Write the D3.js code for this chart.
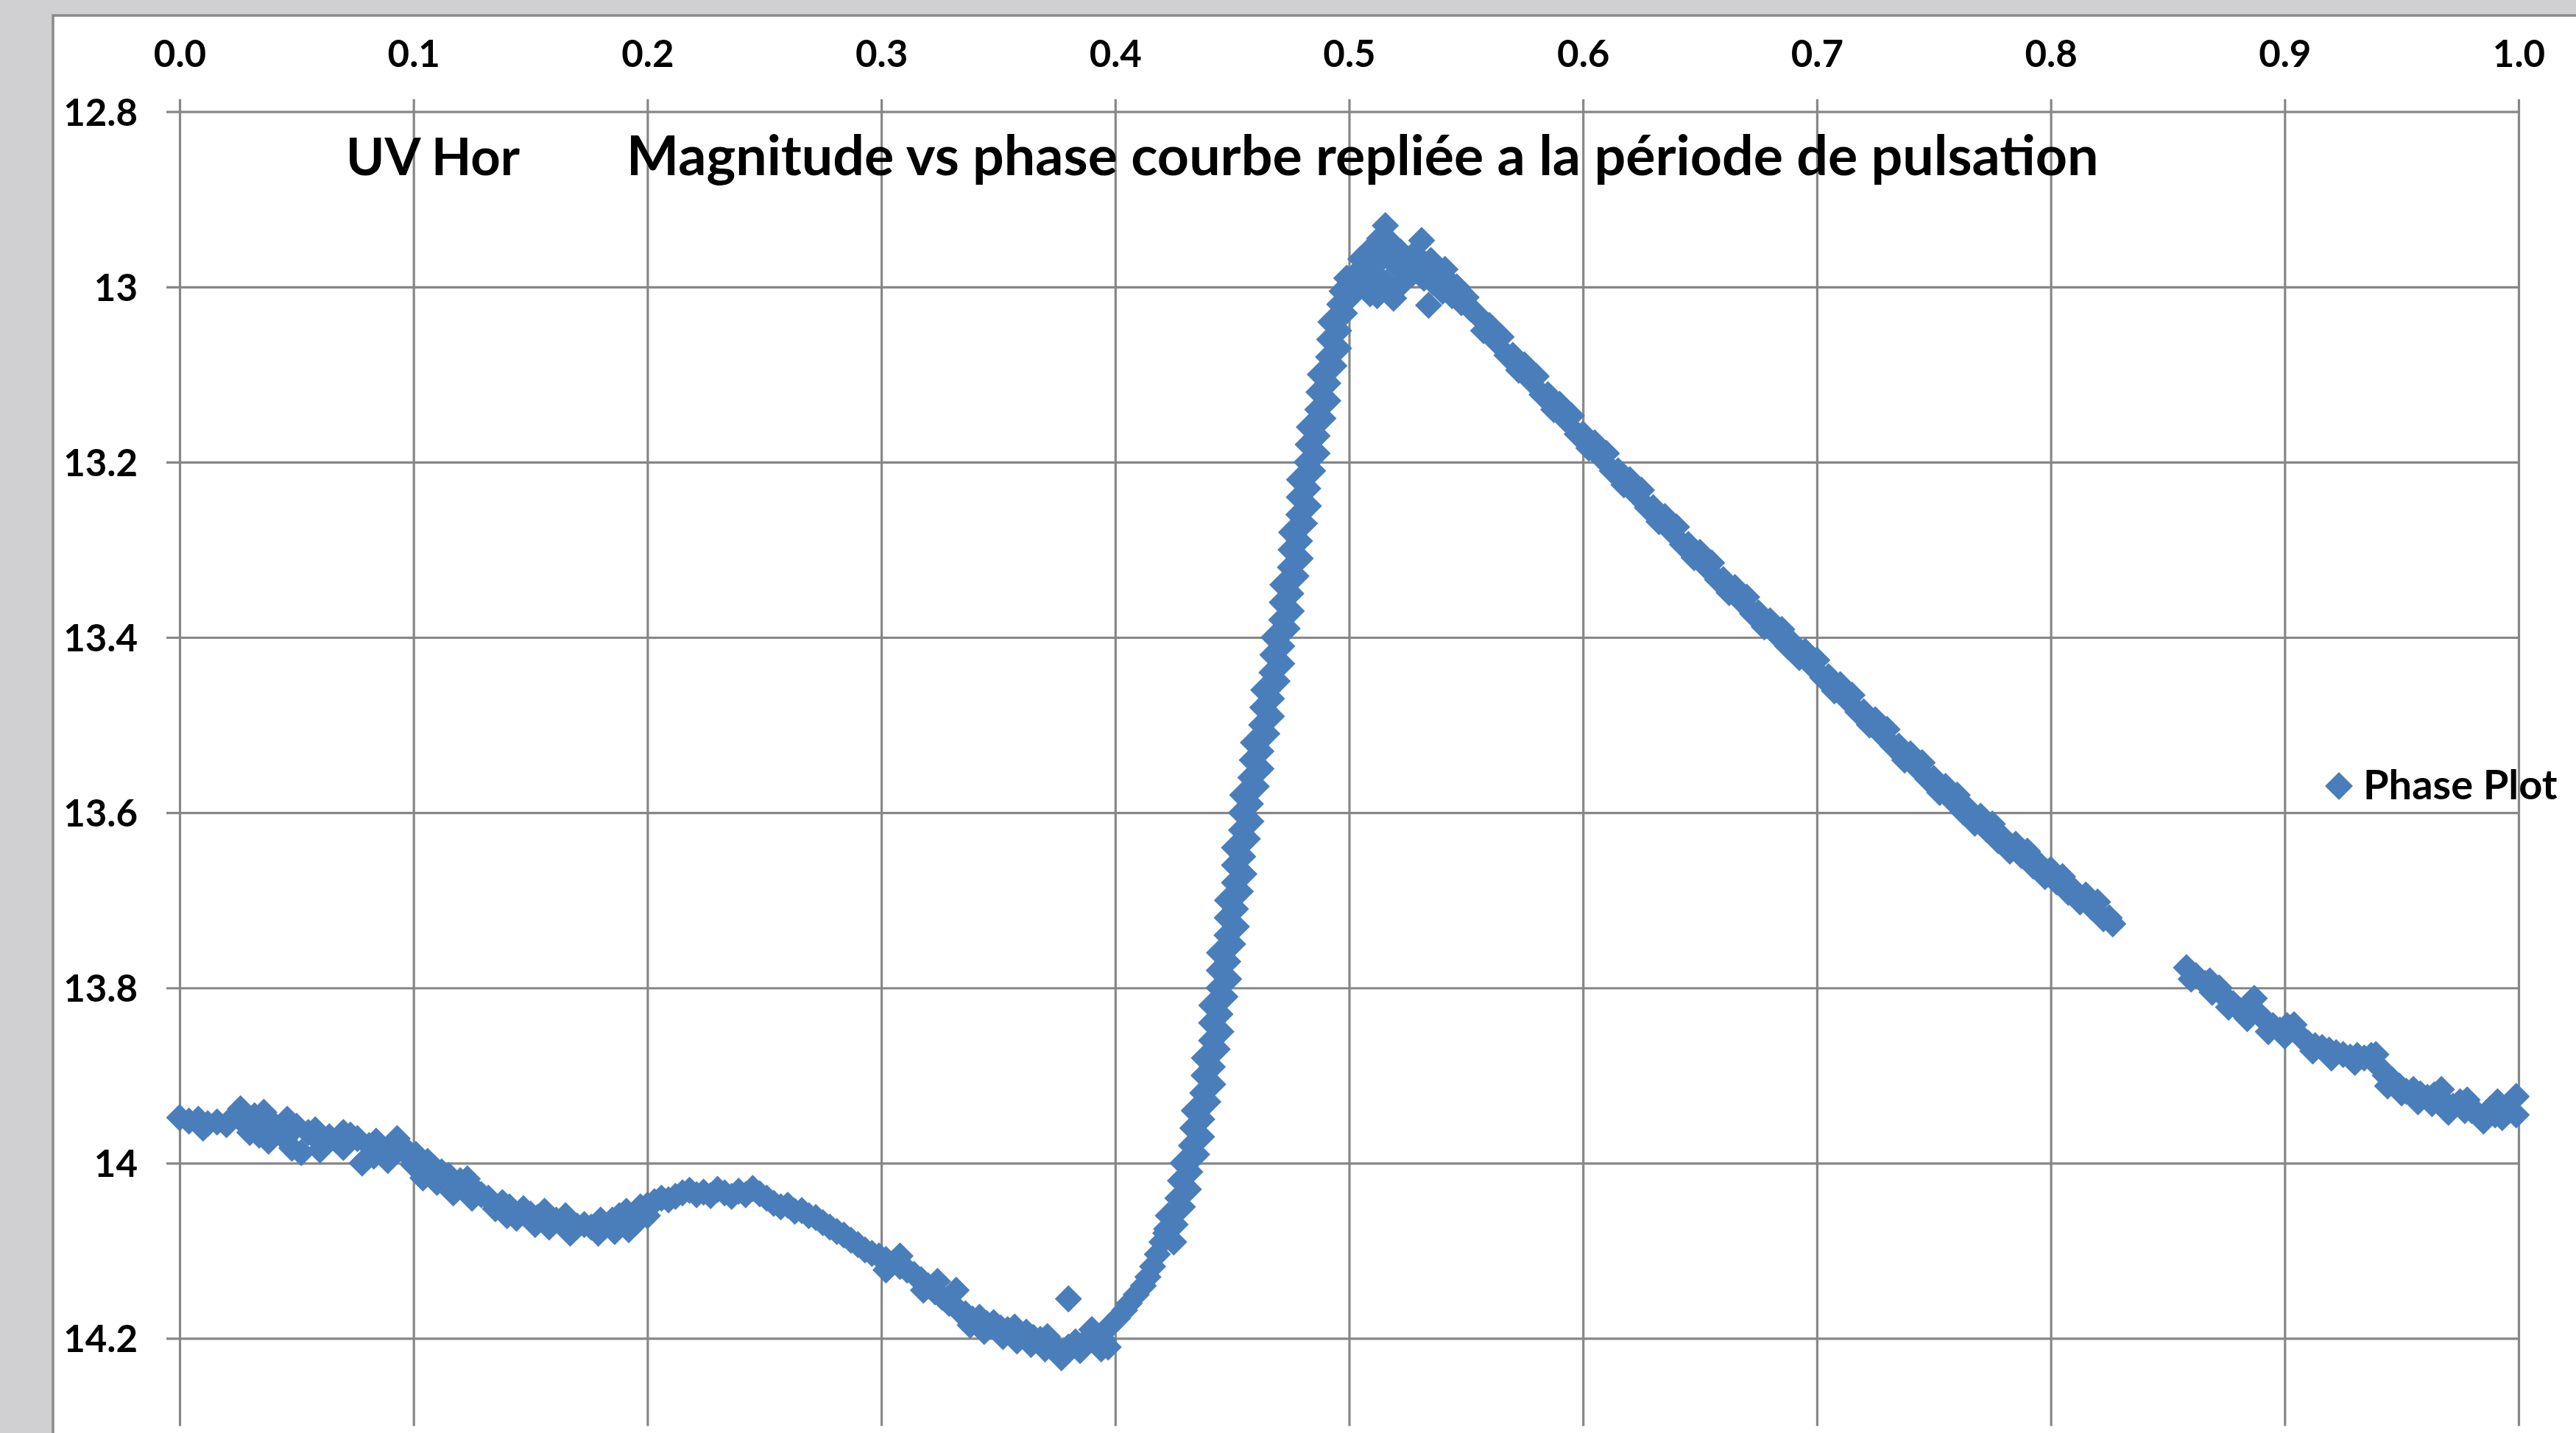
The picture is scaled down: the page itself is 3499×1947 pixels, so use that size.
<!DOCTYPE html>
<html>
<head>
<meta charset="utf-8">
<script src="https://cdn.jsdelivr.net/npm/d3@7"></script>
<style>
  body { margin: 0; background: #d0cfd1; }
  svg { display: block; }
</style>
</head>
<body>
<div id="wrapper"></div>
<script>
// Axis ticks and labels (y axis is reversed: bright at top)
const xTicks = [0, 0.1, 0.2, 0.3, 0.4, 0.5, 0.6, 0.7, 0.8, 0.9, 1.0];
const xTickLabels = ["0.0", "0.1", "0.2", "0.3", "0.4", "0.5", "0.6", "0.7", "0.8", "0.9", "1.0"];
const yTicks = [12.8, 13.0, 13.2, 13.4, 13.6, 13.8, 14.0, 14.2];
const yTickLabels = ["12.8", "13", "13.2", "13.4", "13.6", "13.8", "14", "14.2"];
const xDomain = [0, 1];
const yDomain = [12.8, 14.3];

const titleStar = "UV Hor";
const titleMain = "Magnitude vs phase courbe repliée a la période de pulsation";
const seriesName = "Phase Plot";

// [phase, magnitude], segment by segment
const plateau = [
  [0.000, 13.948], [0.004, 13.952], [0.008, 13.950], [0.012, 13.955], [0.016, 13.953],
  [0.020, 13.956], [0.024, 13.945], [0.026, 13.938], [0.029, 13.958], [0.032, 13.946],
  [0.034, 13.968], [0.036, 13.942], [0.038, 13.975], [0.040, 13.955], [0.043, 13.962],
  [0.046, 13.950], [0.048, 13.983], [0.050, 13.958], [0.052, 13.988], [0.055, 13.965],
  [0.058, 13.962], [0.061, 13.978], [0.064, 13.970], [0.067, 13.974], [0.070, 13.982],
  [0.073, 13.968], [0.076, 13.972], [0.078, 14.000], [0.081, 13.980], [0.084, 13.975],
  [0.087, 13.985], [0.089, 13.997], [0.092, 13.982], [0.095, 13.980], [0.098, 13.992],
  [0.101, 13.990], [0.104, 14.017], [0.106, 13.998], [0.109, 14.006], [0.112, 14.010],
  [0.115, 14.014], [0.117, 14.034], [0.120, 14.020], [0.123, 14.018], [0.126, 14.030],
  [0.129, 14.036], [0.132, 14.040], [0.135, 14.052], [0.138, 14.045], [0.141, 14.050],
  [0.144, 14.063], [0.147, 14.052], [0.150, 14.058], [0.153, 14.062], [0.156, 14.055],
  [0.158, 14.073], [0.161, 14.065], [0.164, 14.068], [0.167, 14.080], [0.170, 14.072],
  [0.173, 14.070], [0.176, 14.073], [0.179, 14.080], [0.182, 14.072], [0.185, 14.065],
  [0.188, 14.060], [0.191, 14.055], [0.192, 14.076], [0.195, 14.068], [0.197, 14.050],
  [0.200, 14.048], [0.203, 14.044], [0.206, 14.040], [0.209, 14.042], [0.212, 14.038],
  [0.010, 13.960], [0.030, 13.965], [0.045, 13.972], [0.060, 13.985], [0.070, 13.965],
  [0.083, 13.992], [0.093, 13.972], [0.100, 14.002], [0.110, 14.022], [0.125, 14.040],
  [0.140, 14.060], [0.152, 14.070], [0.165, 14.060], [0.180, 14.065], [0.186, 14.078],
  [0.194, 14.060], [0.200, 14.060]
];

const hump = [
  [0.215, 14.034], [0.218, 14.031], [0.221, 14.036], [0.224, 14.033], [0.227, 14.037],
  [0.230, 14.030], [0.233, 14.034], [0.236, 14.038], [0.239, 14.032], [0.242, 14.036],
  [0.245, 14.029], [0.248, 14.035], [0.251, 14.040], [0.254, 14.046], [0.257, 14.050],
  [0.260, 14.048], [0.263, 14.055], [0.266, 14.054], [0.269, 14.060], [0.272, 14.062],
  [0.275, 14.068], [0.278, 14.073], [0.281, 14.078], [0.284, 14.082], [0.287, 14.088],
  [0.290, 14.093], [0.293, 14.099], [0.296, 14.103], [0.299, 14.106], [0.302, 14.110],
  [0.305, 14.114], [0.308, 14.118], [0.311, 14.122], [0.314, 14.127], [0.317, 14.133],
  [0.320, 14.140], [0.323, 14.147], [0.326, 14.153], [0.329, 14.160], [0.332, 14.145],
  [0.333, 14.168], [0.336, 14.172], [0.339, 14.178], [0.342, 14.176], [0.345, 14.183],
  [0.348, 14.182], [0.351, 14.188], [0.354, 14.190], [0.357, 14.187], [0.359, 14.195],
  [0.362, 14.193], [0.365, 14.199], [0.368, 14.201], [0.371, 14.198], [0.373, 14.206],
  [0.375, 14.212], [0.377, 14.222], [0.380, 14.155], [0.380, 14.210], [0.383, 14.204],
  [0.386, 14.207], [0.389, 14.200], [0.392, 14.197], [0.395, 14.202], [0.397, 14.210],
  [0.398, 14.185], [0.401, 14.177], [0.404, 14.168], [0.406, 14.160], [0.409, 14.150],
  [0.412, 14.140], [0.414, 14.130], [0.416, 14.118], [0.418, 14.104], [0.420, 14.090],
  [0.422, 14.075],
  [0.302, 14.122], [0.308, 14.106], [0.318, 14.145], [0.324, 14.135], [0.338, 14.185],
  [0.344, 14.192], [0.352, 14.198], [0.358, 14.203], [0.364, 14.207], [0.370, 14.212],
  [0.385, 14.214], [0.390, 14.190], [0.394, 14.212]
];

const rise = [
  [0.4250, 14.09], [0.4216, 14.08], [0.4256, 14.07], [0.4227, 14.06], [0.4287, 14.05],
  [0.4268, 14.04], [0.4313, 14.03], [0.4279, 14.02], [0.4319, 14.01], [0.4290, 14.00],
  [0.4348, 13.99], [0.4326, 13.98], [0.4369, 13.97], [0.4332, 13.96], [0.4370, 13.95],
  [0.4338, 13.94], [0.4396, 13.93], [0.4374, 13.92], [0.4417, 13.91], [0.4380, 13.90],
  [0.4415, 13.89], [0.4381, 13.88], [0.4436, 13.87], [0.4412, 13.86], [0.4452, 13.85],
  [0.4412, 13.84], [0.4448, 13.83], [0.4413, 13.82], [0.4469, 13.81], [0.4444, 13.80],
  [0.4485, 13.79], [0.4445, 13.78], [0.4481, 13.77], [0.4446, 13.76], [0.4502, 13.75],
  [0.4478, 13.74], [0.4518, 13.73], [0.4479, 13.72], [0.4514, 13.71], [0.4480, 13.70],
  [0.4535, 13.69], [0.4510, 13.68], [0.4550, 13.67], [0.4510, 13.66], [0.4545, 13.65],
  [0.4510, 13.64], [0.4565, 13.63], [0.4540, 13.62], [0.4580, 13.61], [0.4540, 13.60],
  [0.4578, 13.59], [0.4545, 13.58], [0.4603, 13.57], [0.4580, 13.56], [0.4623, 13.55],
  [0.4586, 13.54], [0.4623, 13.53], [0.4591, 13.52], [0.4648, 13.51], [0.4626, 13.50],
  [0.4668, 13.49], [0.4631, 13.48], [0.4668, 13.47], [0.4635, 13.46], [0.4692, 13.45],
  [0.4670, 13.44], [0.4712, 13.43], [0.4674, 13.42], [0.4712, 13.41], [0.4679, 13.40],
  [0.4735, 13.39], [0.4712, 13.38], [0.4753, 13.37], [0.4714, 13.36], [0.4751, 13.35],
  [0.4717, 13.34], [0.4773, 13.33], [0.4749, 13.32], [0.4791, 13.31], [0.4752, 13.30],
  [0.4788, 13.29], [0.4754, 13.28], [0.4809, 13.27], [0.4785, 13.26], [0.4826, 13.25],
  [0.4787, 13.24], [0.4823, 13.23], [0.4788, 13.22], [0.4844, 13.21], [0.4820, 13.20],
  [0.4863, 13.19], [0.4825, 13.18], [0.4863, 13.17], [0.4830, 13.16], [0.4888, 13.15],
  [0.4866, 13.14], [0.4909, 13.13], [0.4871, 13.12], [0.4909, 13.11], [0.4877, 13.10],
  [0.4935, 13.09], [0.4912, 13.08], [0.4955, 13.07], [0.4917, 13.06], [0.4955, 13.05],
  [0.4922, 13.04], [0.4980, 13.03], [0.4960, 13.02]
];

const peak = [
  [0.497, 13.005], [0.499, 12.990], [0.501, 13.010], [0.503, 12.985], [0.505, 12.968],
  [0.506, 12.995], [0.508, 12.975], [0.509, 13.008], [0.510, 12.955], [0.511, 12.985],
  [0.512, 13.010], [0.513, 12.945], [0.5155, 12.930], [0.515, 12.965], [0.516, 12.995],
  [0.518, 12.950], [0.519, 13.013], [0.520, 12.975], [0.522, 12.960], [0.523, 12.995],
  [0.525, 12.970], [0.527, 12.985], [0.528, 12.962], [0.530, 12.975], [0.531, 12.947],
  [0.532, 12.990], [0.534, 13.021], [0.535, 12.970], [0.536, 12.995], [0.538, 12.985],
  [0.540, 13.005], [0.541, 12.980], [0.543, 12.995], [0.544, 13.010], [0.546, 13.000],
  [0.548, 13.018], [0.550, 13.012], [0.552, 13.025], [0.554, 13.030]
];

const descent = [
  [0.5575, 13.050], [0.5600, 13.044], [0.5625, 13.061], [0.5650, 13.057], [0.5675, 13.078],
  [0.5700, 13.078], [0.5725, 13.095], [0.5750, 13.089], [0.5775, 13.106], [0.5800, 13.102],
  [0.5825, 13.123], [0.5850, 13.123], [0.5875, 13.140], [0.5900, 13.134], [0.5925, 13.151],
  [0.5950, 13.147], [0.5975, 13.168], [0.6000, 13.168], [0.6025, 13.184], [0.6050, 13.178],
  [0.6075, 13.194], [0.6100, 13.190], [0.6125, 13.210], [0.6150, 13.210], [0.6175, 13.226],
  [0.6200, 13.220], [0.6225, 13.236], [0.6250, 13.232], [0.6275, 13.252], [0.6300, 13.252],
  [0.6325, 13.268], [0.6350, 13.262], [0.6375, 13.278], [0.6400, 13.274], [0.6425, 13.294],
  [0.6450, 13.294], [0.6475, 13.309], [0.6500, 13.303], [0.6525, 13.319], [0.6550, 13.315],
  [0.6575, 13.334], [0.6600, 13.334], [0.6625, 13.349], [0.6650, 13.343], [0.6675, 13.358],
  [0.6700, 13.354], [0.6725, 13.373], [0.6750, 13.372], [0.6775, 13.388], [0.6800, 13.381],
  [0.6825, 13.396], [0.6850, 13.391], [0.6875, 13.410], [0.6900, 13.408], [0.6925, 13.423],
  [0.6950, 13.416], [0.6975, 13.431], [0.7000, 13.426], [0.7025, 13.446], [0.7050, 13.445],
  [0.7075, 13.461], [0.7100, 13.454], [0.7125, 13.470], [0.7150, 13.466], [0.7175, 13.485],
  [0.7200, 13.485], [0.7225, 13.500], [0.7250, 13.494], [0.7275, 13.510], [0.7300, 13.505],
  [0.7325, 13.524], [0.7350, 13.524], [0.7375, 13.540], [0.7400, 13.533], [0.7425, 13.548],
  [0.7450, 13.543], [0.7475, 13.562], [0.7500, 13.561], [0.7525, 13.577], [0.7550, 13.570],
  [0.7575, 13.585], [0.7600, 13.580], [0.7625, 13.599], [0.7650, 13.597], [0.7675, 13.612],
  [0.7700, 13.604], [0.7725, 13.619], [0.7750, 13.613], [0.7775, 13.632], [0.7800, 13.630],
  [0.7825, 13.644], [0.7850, 13.636], [0.7875, 13.649], [0.7900, 13.644], [0.7925, 13.661],
  [0.7950, 13.659], [0.7975, 13.673], [0.8000, 13.665], [0.8025, 13.679], [0.8050, 13.673],
  [0.8075, 13.691], [0.8100, 13.689], [0.8125, 13.702], [0.8150, 13.694], [0.8175, 13.708],
  [0.8200, 13.702], [0.8225, 13.721], [0.8250, 13.720], [0.8265, 13.727]
];

const tail = [
  [0.858, 13.777], [0.862, 13.786], [0.866, 13.795], [0.869, 13.805], [0.872, 13.800],
  [0.875, 13.812], [0.878, 13.818], [0.881, 13.826], [0.884, 13.822], [0.887, 13.812],
  [0.889, 13.830], [0.892, 13.838], [0.895, 13.843], [0.898, 13.848], [0.901, 13.843],
  [0.904, 13.842], [0.907, 13.856], [0.910, 13.863], [0.913, 13.866], [0.916, 13.868],
  [0.919, 13.871], [0.922, 13.874], [0.925, 13.876], [0.928, 13.879], [0.931, 13.877],
  [0.934, 13.880], [0.937, 13.877], [0.939, 13.876], [0.941, 13.892], [0.943, 13.900],
  [0.946, 13.905], [0.949, 13.912], [0.952, 13.918], [0.955, 13.916], [0.958, 13.921],
  [0.961, 13.925], [0.964, 13.922], [0.967, 13.916], [0.969, 13.932], [0.972, 13.935],
  [0.975, 13.930], [0.978, 13.928], [0.980, 13.940], [0.983, 13.945], [0.986, 13.948],
  [0.988, 13.938], [0.991, 13.930], [0.993, 13.948], [0.996, 13.940], [0.999, 13.924],
  [0.999, 13.945],
  [0.860, 13.790], [0.868, 13.792], [0.876, 13.822], [0.884, 13.835], [0.893, 13.850],
  [0.900, 13.855], [0.912, 13.872], [0.920, 13.880], [0.930, 13.885], [0.944, 13.912],
  [0.950, 13.920], [0.957, 13.930], [0.963, 13.932], [0.970, 13.942], [0.977, 13.940],
  [0.985, 13.952], [0.990, 13.945]
];

const drawChart = () => {
  const points = [...plateau, ...hump, ...rise, ...peak, ...descent, ...tail];

  const xAccessor = (d) => d[0];
  const yAccessor = (d) => d[1];

  let dimensions = {
    width: 3499,
    height: 1947,
    margins: {
      top: 151.7,
      left: 244,
    },
    boundedWidth: 3177,
    boundedHeight: 1785.8,
  };

  const wrapper = d3.select("#wrapper")
    .append("svg")
      .attr("width", dimensions.width)
      .attr("height", dimensions.height)
      .style("font-family", "Lato, 'Open Sans', sans-serif")
      .style("font-weight", "bold");

  // chart area (white, running off the right and bottom edges)
  wrapper.append("rect")
    .attr("x", 72)
    .attr("y", 21)
    .attr("width", dimensions.width)
    .attr("height", dimensions.height)
    .attr("fill", "#ffffff")
    .attr("stroke", "#8a8a8a")
    .attr("stroke-width", 3.5);

  const bounds = wrapper.append("g")
    .attr("transform", `translate(${dimensions.margins.left},${dimensions.margins.top})`);

  const xScale = d3.scaleLinear()
    .domain(xDomain)
    .range([0, dimensions.boundedWidth]);

  const yScale = d3.scaleLinear()
    .domain(yDomain)
    .range([0, dimensions.boundedHeight]);

  // gridlines + ticks, Excel style
  const xAxis = bounds.append("g")
    .call(d3.axisTop(xScale)
      .tickValues(xTicks)
      .tickSize(-dimensions.boundedHeight)
      .tickPadding(61)
      .tickFormat((d, i) => xTickLabels[i]));

  const yAxis = bounds.append("g")
    .call(d3.axisLeft(yScale)
      .tickValues(yTicks)
      .tickSize(-dimensions.boundedWidth)
      .tickPadding(57)
      .tickFormat((d, i) => yTickLabels[i]));

  [xAxis, yAxis].forEach((ax) => {
    ax.select(".domain").remove();
    ax.selectAll(".tick line")
      .attr("stroke", "#878787")
      .attr("stroke-width", 3.2);
    ax.selectAll(".tick text")
      .attr("fill", "#000000")
      .style("font-family", "Lato, 'Open Sans', sans-serif")
      .style("font-weight", "bold")
      .style("font-size", "51px");
  });
  xAxis.selectAll(".tick line").attr("y1", -17);
  yAxis.selectAll(".tick line").attr("x1", -18);
  yAxis.selectAll(".tick text").attr("dy", "0.36em");

  // markers
  const r = 18.5;
  const diamond = `M0,${-r}L${r},0L0,${r}L${-r},0Z`;
  bounds.append("g")
    .selectAll("path")
    .data(points)
    .join("path")
      .attr("transform", (d) => `translate(${xScale(xAccessor(d))},${yScale(yAccessor(d))})`)
      .attr("d", diamond)
      .attr("fill", "#4A7EBB");

  // title (two pieces, as in the original)
  const main = wrapper.append("text")
    .attr("x", 851)
    .attr("y", 238)
    .style("font-size", "70px")
    .text(titleMain);
  const size = 70 * 2000 / main.node().getComputedTextLength();
  main.style("font-size", `${size}px`);
  const star = wrapper.append("text")
    .attr("x", 470)
    .attr("y", 238)
    .style("font-size", `${size}px`)
    .text(titleStar);
  const starSize = size * 236 / star.node().getComputedTextLength();
  star.style("font-size", `${starSize}px`);

  // legend
  const legend = wrapper.append("g")
    .attr("transform", "translate(3177,1068)");
  legend.append("path")
    .attr("d", `M0,-19L19,0L0,19L-19,0Z`)
    .attr("fill", "#4A7EBB");
  legend.append("text")
    .attr("x", 33)
    .attr("y", 18)
    .style("font-size", "56px")
    .text(seriesName);
};

drawChart();
</script>
</body>
</html>
